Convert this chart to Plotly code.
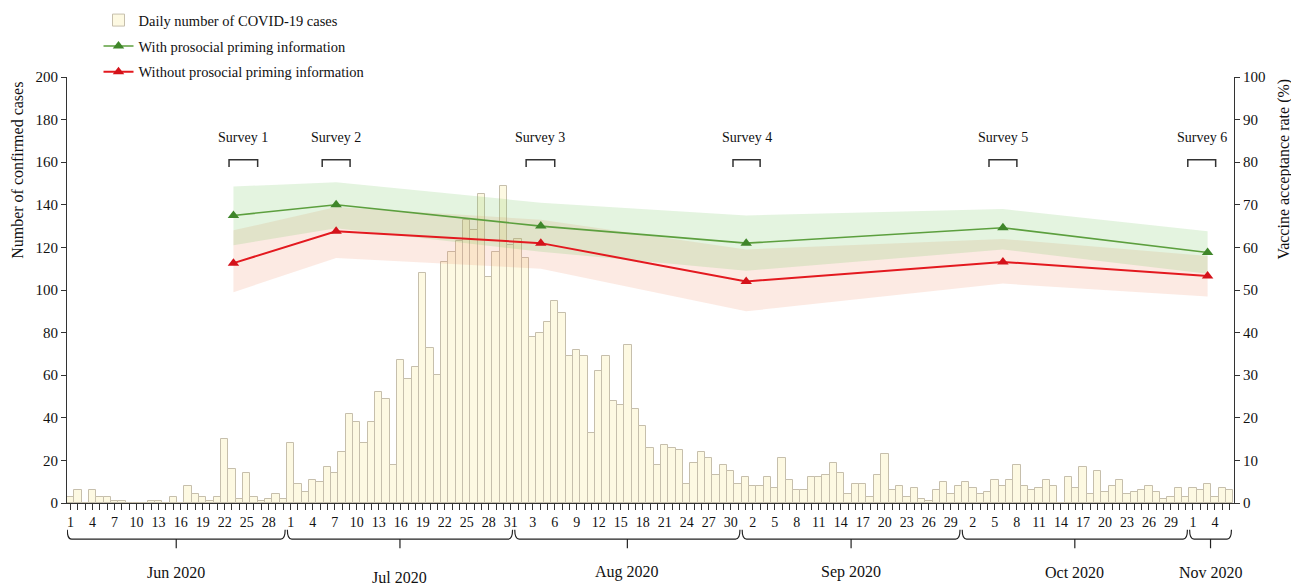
import pandas as pd
import plotly.graph_objects as go

# ---------------- data ----------------
start_date = "2020-06-01"
jun_cases = [3, 6, 0, 6, 3, 3, 1, 1, 0, 0, 0, 1, 1, 0, 3, 0, 8, 4, 3, 1, 3, 30, 16, 2, 14, 3, 1, 2, 4, 2]
jul_cases = [28, 9, 5, 11, 10, 17, 14, 24, 42, 38, 28, 38, 52, 49, 18, 67, 58, 64, 108, 73,
             60, 113, 118, 123, 133, 128, 145, 106, 118, 149, 121]
aug_cases = [124, 115, 78, 80, 85, 95, 89, 69, 72, 69, 33, 62, 69, 48, 46, 74, 44, 36, 26, 18,
             27, 26, 25, 9, 19, 24, 21, 13, 18, 15, 9]
sep_cases = [12, 8, 8, 12, 7, 21, 11, 6, 6, 12, 12, 13, 19, 14, 4, 9, 9, 3, 13, 23,
             6, 8, 3, 7, 2, 1, 6, 10, 4, 8]
oct_cases = [10, 7, 4, 5, 11, 8, 11, 18, 8, 6, 7, 11, 8, 0, 12, 7, 17, 4, 15, 5,
             8, 11, 4, 5, 6, 8, 5, 2, 3, 7, 3]
nov_cases = [7, 6, 9, 3, 7, 6]

month_labels = ["Jun 2020", "Jul 2020", "Aug 2020", "Sep 2020", "Oct 2020", "Nov 2020"]

survey_labels = ["Survey 1", "Survey 2", "Survey 3", "Survey 4", "Survey 5", "Survey 6"]
survey_day = [22.2, 36.2, 64.1, 92.1, 127.1, 155.0]          # days since 1 Jun 2020
survey_start = [21.6, 34.3, 62.1, 90.3, 125.2, 152.3]
survey_end = [25.5, 38.1, 66.0, 94.0, 129.0, 156.1]

with_mean = [67.5, 70.0, 65.0, 61.0, 64.6, 58.8]
with_upper = [74.3, 75.3, 70.5, 67.5, 69.0, 63.8]
with_lower = [60.5, 64.5, 59.0, 54.5, 59.5, 53.8]
without_mean = [56.3, 63.8, 61.0, 52.0, 56.6, 53.3]
without_upper = [64.0, 69.5, 66.5, 59.5, 62.0, 58.0]
without_lower = [49.5, 57.5, 55.0, 45.0, 51.5, 48.5]

# ---------------- derived ----------------
cases = jun_cases + jul_cases + aug_cases + sep_cases + oct_cases + nov_cases
dates = pd.date_range(start_date, periods=len(cases), freq="D")
day_idx = list(range(len(cases)))

tick_vals = day_idx[::3]
tick_text = [str(dates[i].day) for i in tick_vals]

FONT = "Times New Roman, Liberation Serif, serif"
GREEN_LINE = "#5c9f3e"
GREEN_MARK = "#3f862a"
RED_LINE = "#e3191f"
RED_MARK = "#d4121a"

fig = go.Figure()

fig.add_trace(go.Bar(
    x=day_idx, y=cases, width=1.0,
    marker=dict(color="#fdf9e2", line=dict(color="#c6bfac", width=1)),
    name="Daily number of COVID-19 cases", legendgroup="g1",
    yaxis="y", hoverinfo="x+y",
))

# confidence bands
fig.add_trace(go.Scatter(x=survey_day, y=without_upper, yaxis="y2", mode="lines",
                         line=dict(width=0), showlegend=False, hoverinfo="skip"))
fig.add_trace(go.Scatter(x=survey_day, y=without_lower, yaxis="y2", mode="lines",
                         line=dict(width=0), fill="tonexty",
                         fillcolor="rgba(240,140,100,0.18)", showlegend=False, hoverinfo="skip"))
fig.add_trace(go.Scatter(x=survey_day, y=with_upper, yaxis="y2", mode="lines",
                         line=dict(width=0), showlegend=False, hoverinfo="skip"))
fig.add_trace(go.Scatter(x=survey_day, y=with_lower, yaxis="y2", mode="lines",
                         line=dict(width=0), fill="tonexty",
                         fillcolor="rgba(120,200,100,0.2)", showlegend=False, hoverinfo="skip"))

fig.add_trace(go.Scatter(
    x=survey_day, y=with_mean, yaxis="y2", mode="lines+markers",
    line=dict(color=GREEN_LINE, width=1.6),
    marker=dict(symbol="triangle-up", size=10, color=GREEN_MARK),
    name="With prosocial priming information", legendgroup="g2",
))
fig.add_trace(go.Scatter(
    x=survey_day, y=without_mean, yaxis="y2", mode="lines+markers",
    line=dict(color=RED_LINE, width=2),
    marker=dict(symbol="triangle-up", size=10, color=RED_MARK),
    name="Without prosocial priming information", legendgroup="g3",
))

shapes = []
annotations = []

# survey brackets and labels
for lab, s0, s1 in zip(survey_labels, survey_start, survey_end):
    shapes.append(dict(type="path", xref="x", yref="y2",
                       path=f"M {s0},78.9 L {s0},80.6 L {s1},80.6 L {s1},78.9",
                       line=dict(color="#333333", width=1.5)))
    annotations.append(dict(x=(s0 + s1) / 2, y=85.9, xref="x", yref="y2", text=lab,
                            showarrow=False, font=dict(family=FONT, size=14, color="#111"),
                            xanchor="center", yanchor="middle"))

# month braces
month_first = []
month_last = []
for i, d in enumerate(dates):
    if i == 0 or d.month != dates[i - 1].month:
        month_first.append(i)
    if i == len(dates) - 1 or d.month != dates[i + 1].month:
        month_last.append(i)

y_top, y_mid, y_bot = -0.063, -0.085, -0.106
for k, (a, b) in enumerate(zip(month_first, month_last)):
    x0 = a - 0.45
    x1 = b + 0.25
    xm = (x0 + x1) / 2
    path = (f"M {x0},{y_top} Q {x0},{y_mid} {x0 + 0.6},{y_mid} "
            f"L {x1 - 0.6},{y_mid} Q {x1},{y_mid} {x1},{y_top} "
            f"M {xm},{y_mid} L {xm},{y_bot}")
    shapes.append(dict(type="path", xref="x", yref="paper", path=path,
                       line=dict(color="#222222", width=1.2)))
    ylab = -0.176 if k == 1 else -0.163
    annotations.append(dict(x=xm, y=ylab, xref="x", yref="paper", text=month_labels[k],
                            showarrow=False, font=dict(family=FONT, size=16, color="#111"),
                            xanchor="center", yanchor="middle"))

# axis titles
annotations.append(dict(x=-0.042, y=0.782, xref="paper", yref="paper",
                        text="Number of confirmed cases", textangle=-90, showarrow=False,
                        font=dict(family=FONT, size=16, color="#111"),
                        xanchor="center", yanchor="middle"))
annotations.append(dict(x=1.0425, y=0.784, xref="paper", yref="paper",
                        text="Vaccine acceptance rate (%)", textangle=-90, showarrow=False,
                        font=dict(family=FONT, size=16, color="#111"),
                        xanchor="center", yanchor="middle"))

fig.update_layout(
    width=1291, height=585,
    margin=dict(l=67, r=57, t=77, b=82, autoexpand=False),
    paper_bgcolor="white", plot_bgcolor="white",
    font=dict(family=FONT, size=14, color="#111"),
    bargap=0,
    showlegend=True,
    legend=dict(x=0.027, y=1.171, xanchor="left", yanchor="top", traceorder="grouped",
                font=dict(family=FONT, size=14.5, color="#111"),
                bgcolor="rgba(0,0,0,0)", tracegroupgap=4, itemwidth=30),
    xaxis=dict(range=[-0.49, 158.6], tickmode="array", tickvals=tick_vals, ticktext=tick_text,
               showgrid=False, zeroline=False, showline=True, linecolor="#333", linewidth=1.2,
               ticks="outside", ticklen=6, tickcolor="#333",
               minor=dict(ticks="outside", ticklen=6, tickcolor="#333", tick0=0, dtick=1,
                          showgrid=False),
               tickfont=dict(family=FONT, size=14, color="#111")),
    yaxis=dict(range=[0, 200], dtick=20, showgrid=False, zeroline=False, showline=True,
               linecolor="#333", linewidth=1.2, ticks="outside", ticklen=5, tickcolor="#333",
               tickfont=dict(family=FONT, size=15, color="#111")),
    yaxis2=dict(range=[0, 100], dtick=10, overlaying="y", side="right", showgrid=False,
                zeroline=False, showline=True, linecolor="#333", linewidth=1.2,
                ticks="outside", ticklen=5, tickcolor="#333",
                tickfont=dict(family=FONT, size=15, color="#111")),
    shapes=shapes,
    annotations=annotations,
)

fig.write_html("out.html", config={"displayModeBar": False},
               post_script="document.body.style.margin='0';")
